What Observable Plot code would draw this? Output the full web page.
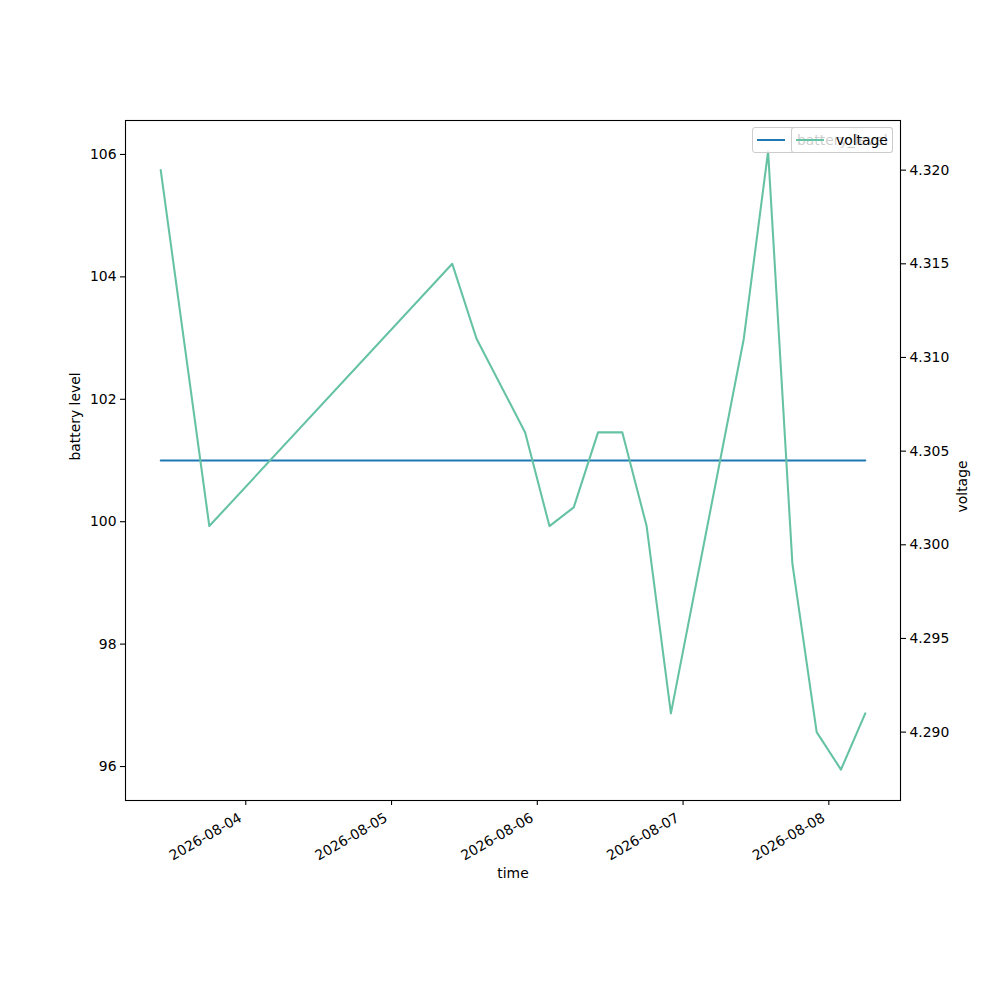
<!DOCTYPE html>
<html>
<head>
<meta charset="utf-8">
<script src="https://cdn.jsdelivr.net/npm/d3@7"></script>
<script src="https://cdn.jsdelivr.net/npm/@observablehq/plot@0.6"></script>
<style>
  html, body { margin: 0; padding: 0; background: #fff; }
  #wrap { position: relative; width: 1000px; height: 1000px; font-family: "DejaVu Sans", sans-serif; }
  #wrap svg { position: absolute; left: 0; top: 0; }
  .legend { position: absolute; box-sizing: border-box; border: 1px solid #cccccc; border-radius: 3px;
            background: rgba(255,255,255,0.8); font-size: 13.9px; color: #000; white-space: nowrap; }
  .legend .sw { position: absolute; height: 0; border-top: 2px solid; width: 28px; }
  .legend .lbl { position: absolute; line-height: 16px; }
</style>
</head>
<body>
<div id="wrap"></div>
<script>
// ---- data ----
const times = [
  "2026-08-03T10:00Z", "2026-08-03T18:00Z",
  "2026-08-05T10:00Z", "2026-08-05T14:00Z", "2026-08-05T22:00Z",
  "2026-08-06T02:00Z", "2026-08-06T06:00Z", "2026-08-06T10:00Z", "2026-08-06T14:00Z",
  "2026-08-06T18:00Z", "2026-08-06T22:00Z",
  "2026-08-07T10:00Z", "2026-08-07T14:00Z", "2026-08-07T18:00Z", "2026-08-07T22:00Z",
  "2026-08-08T02:00Z", "2026-08-08T06:00Z"
];
const batteryLevel = [101, 101, 101, 101, 101, 101, 101, 101, 101, 101, 101, 101, 101, 101, 101, 101, 101];
const voltage = [4.320, 4.301, 4.315, 4.311, 4.306, 4.301, 4.302, 4.306, 4.306, 4.301, 4.291,
                 4.311, 4.321, 4.299, 4.290, 4.288, 4.291];
const xTickLabels = ["2026-08-04", "2026-08-05", "2026-08-06", "2026-08-07", "2026-08-08"];
const leftTicks = [96, 98, 100, 102, 104, 106];
const rightTicks = [4.290, 4.295, 4.300, 4.305, 4.310, 4.315, 4.320];

// ---- build table ----
const rows = times.map((t, i) => ({time: new Date(t), battery: batteryLevel[i], voltage: voltage[i]}));
const xTicks = xTickLabels.map(s => new Date(s + "T00:00Z"));

// matplotlib-like 5% margins
function padded(ext, frac = 0.05) {
  const [a, b] = ext; const r = b - a; return [a - r * frac, b + r * frac];
}
const tExt = d3.extent(rows, d => +d.time);
const xDomain = padded(tExt).map(v => new Date(v));
// constant series: matplotlib expands singular limits by 5% of value, then 5% margin
const bv = batteryLevel[0];
const yLeft = padded([bv - bv * 0.05, bv + bv * 0.05]);
const yRight = padded(d3.extent(voltage));

const common = {
  width: 1000, height: 1000,
  marginLeft: 125, marginRight: 100, marginTop: 120, marginBottom: 200,
  style: {fontFamily: "DejaVu Sans", fontSize: "13.9px", background: "transparent", color: "#000", overflow: "visible"}
};

const p1 = Plot.plot({
  ...common,
  x: {type: "utc", domain: xDomain},
  y: {domain: yLeft},
  marks: [
    Plot.lineY(rows, {x: "time", y: "battery", stroke: "#1f77b4", strokeWidth: 2.08}),
    Plot.axisY({ticks: leftTicks, tickSize: 5, tickPadding: 4, tickFormat: d => String(d), label: null, strokeWidth: 1.1}),
    Plot.axisX({ticks: xTicks, tickSize: 5, tickFormat: () => "", label: null, strokeWidth: 1.1}),
    Plot.text(xTicks, {x: d => d, frameAnchor: "bottom", text: d => d3.utcFormat("%Y-%m-%d")(d),
      rotate: -30, textAnchor: "end", lineAnchor: "bottom", dy: 20, dx: -3, fontSize: 13.9}),
    Plot.text(["time"], {frameAnchor: "bottom", dy: 73, lineAnchor: "middle", fontSize: 13.9}),
    Plot.text(["battery level"], {frameAnchor: "left", dx: -50, rotate: -90, lineAnchor: "middle", fontSize: 13.9}),
    Plot.frame({stroke: "#000", strokeWidth: 1.1})
  ]
});

const p2 = Plot.plot({
  ...common,
  x: {type: "utc", domain: xDomain, axis: null},
  y: {domain: yRight},
  marks: [
    Plot.lineY(rows, {x: "time", y: "voltage", stroke: "#66c2a5", strokeWidth: 2.08}),
    Plot.axisY({anchor: "right", ticks: rightTicks, tickSize: 5, tickPadding: 4, tickFormat: d3.format(".3f"), label: null, strokeWidth: 1.1}),
    Plot.text(["voltage"], {frameAnchor: "right", dx: 62, rotate: -90, lineAnchor: "middle", fontSize: 13.9})
  ]
});

const wrap = document.getElementById("wrap");
wrap.appendChild(p1);
wrap.appendChild(p2);

// ---- legends (two overlapping, as in the reference) ----
function legend(left, top, width, color, label) {
  const box = document.createElement("div");
  box.className = "legend";
  Object.assign(box.style, {left: left + "px", top: top + "px", width: width + "px", height: "26px"});
  const sw = document.createElement("div");
  sw.className = "sw";
  Object.assign(sw.style, {left: "4px", top: "11px", borderTopColor: color});
  const lb = document.createElement("div");
  lb.className = "lbl";
  Object.assign(lb.style, {left: "44px", top: "4px"});
  lb.textContent = label;
  box.appendChild(sw); box.appendChild(lb);
  wrap.appendChild(box);
}
const seriesNames = ["battery_level", "voltage"];
legend(752, 127, 141, "#1f77b4", seriesNames[0]);
legend(791, 127, 102, "#66c2a5", seriesNames[1]);
</script>
</body>
</html>
